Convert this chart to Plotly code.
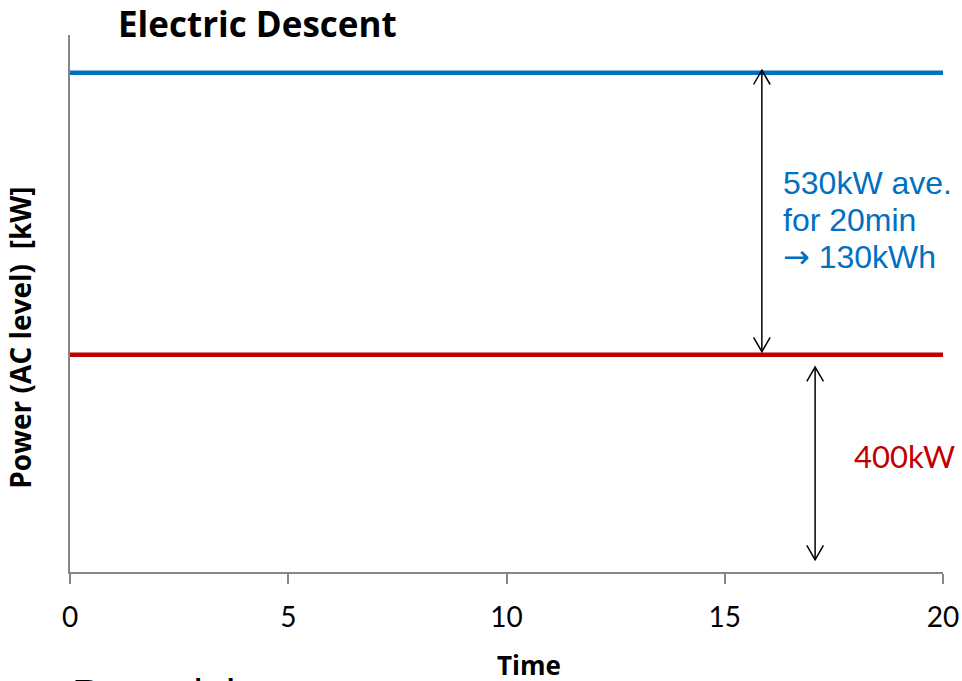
import plotly.graph_objects as go

# ---- data ----
time_pts = [0, 20]
descent_power = [930, 930]      # blue: 400 + 530 kW average
base_power = [400, 400]         # red: 400 kW
x_ticks = [0, 5, 10, 15, 20]
x_ticklabels = ["0", "5", "10", "15", "20"]

BLUE = "#0070C0"
RED = "#C00000"
AXIS = "#868686"

fig = go.Figure()
fig.add_trace(go.Scatter(x=time_pts, y=descent_power, mode="lines",
                         line=dict(color=BLUE, width=4.5), hoverinfo="skip"))
fig.add_trace(go.Scatter(x=time_pts, y=base_power, mode="lines",
                         line=dict(color=RED, width=4.5), hoverinfo="skip"))

# double-headed arrows (data coords)
def darrow(x, y_top, y_bot, dx=0.19, dy=27):
    fig.add_shape(type="line", x0=x, x1=x, y0=y_bot, y1=y_top,
                  line=dict(color="black", width=1.5), xref="x", yref="y")
    fig.add_shape(type="path", xref="x", yref="y",
                  path=f"M {x-dx},{y_top-dy} L {x},{y_top} L {x+dx},{y_top-dy}",
                  line=dict(color="black", width=1.5))
    fig.add_shape(type="path", xref="x", yref="y",
                  path=f"M {x-dx},{y_bot+dy} L {x},{y_bot} L {x+dx},{y_bot+dy}",
                  line=dict(color="black", width=1.5))

darrow(15.85, 935, 406)
darrow(17.07, 377, 15)

blue_lines = ["530kW ave.", "for 20min",
              "<span style='font-family:DejaVu Sans'>\u2192</span> 130kWh"]
blue_y = [723, 654, 584]
for t, yy in zip(blue_lines, blue_y):
    fig.add_annotation(x=16.29, y=yy, xref="x", yref="y", text=t, showarrow=False,
                       xanchor="left", yanchor="middle",
                       font=dict(family="Liberation Sans, Arial", size=32, color=BLUE))

fig.add_annotation(x=17.92, y=210, xref="x", yref="y", text="400kW", showarrow=False,
                   xanchor="left", yanchor="middle",
                   font=dict(family="Lato", size=31, color=RED))

# y title
fig.add_annotation(x=-0.0573, y=0.436, xref="paper", yref="paper",
                   text="<b>Power (AC level)&nbsp;&nbsp;[kW]</b>", textangle=-90, showarrow=False,
                   xanchor="center", yanchor="middle",
                   font=dict(family="Open Sans", size=28, color="black"))
# x title
fig.add_annotation(x=10.52, y=-0.2085, xref="x", yref="paper", text="<b>Time</b>",
                   showarrow=False, xanchor="center", yanchor="bottom", borderpad=0,
                   font=dict(family="Open Sans", size=26, color="black"))
# cut-off slide text
fig.add_annotation(x=0.0, y=-0.181, xref="paper", yref="paper", text="Potential",
                   showarrow=False, xanchor="left", yanchor="top",
                   font=dict(family="Liberation Sans, Arial", size=42, color="black"))

fig.update_layout(
    width=962, height=681,
    margin=dict(l=70, r=19, t=35, b=109, autoexpand=False),
    paper_bgcolor="white", plot_bgcolor="white",
    showlegend=False,
    title=dict(text="<b>Electric Descent</b>", x=0.055, xref="paper", xanchor="left",
               y=1 - 25 / 681, yref="container", yanchor="middle",
               font=dict(family="Open Sans", size=35, color="black")),
    xaxis=dict(range=[0, 20], tickvals=x_ticks, ticktext=x_ticklabels, automargin=False,
               showgrid=False, zeroline=False, showline=True, linecolor=AXIS, linewidth=1.5,
               ticks="outside", ticklen=10, tickcolor=AXIS, tickwidth=1.5,
               ticklabelstandoff=10,
               tickfont=dict(family="Lato", size=28, color="black")),
    yaxis=dict(range=[-8, 1001], showgrid=False, zeroline=False, showline=True, automargin=False,
               linecolor=AXIS, linewidth=1.5, showticklabels=False, ticks=""),
)

fig.write_html("out.html")
